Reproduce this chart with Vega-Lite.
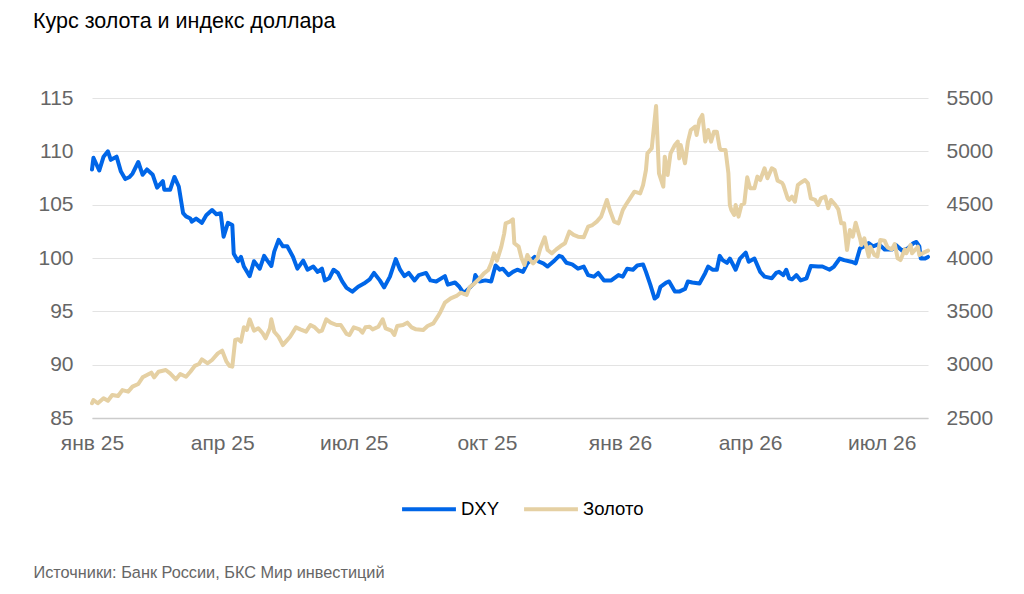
{
  "$schema": "https://vega.github.io/schema/vega-lite/v6.json",
  "autosize": {"type": "none"},
  "width": 836,
  "height": 320,
  "padding": {"left": 92, "top": 98, "right": 96, "bottom": 176},
  "background": "white",
  "title": {
    "text": "Курс золота и индекс доллара",
    "anchor": "start",
    "frame": "group",
    "dx": -59,
    "offset": 55,
    "fontSize": 21.5,
    "fontWeight": "normal",
    "color": "#000000",
    "font": "Liberation Sans"
  },
  "datasets": {
    "dxy": [
      {"date": "2025-01-01", "value": 108.3},
      {"date": "2025-01-02", "value": 109.4},
      {"date": "2025-01-06", "value": 108.2},
      {"date": "2025-01-09", "value": 109.5},
      {"date": "2025-01-12", "value": 110.0},
      {"date": "2025-01-14", "value": 109.2},
      {"date": "2025-01-18", "value": 109.5},
      {"date": "2025-01-21", "value": 108.1},
      {"date": "2025-01-24", "value": 107.4},
      {"date": "2025-01-27", "value": 107.6},
      {"date": "2025-01-29", "value": 107.9},
      {"date": "2025-02-02", "value": 109.0},
      {"date": "2025-02-05", "value": 107.8},
      {"date": "2025-02-08", "value": 108.3},
      {"date": "2025-02-12", "value": 107.8},
      {"date": "2025-02-15", "value": 106.6},
      {"date": "2025-02-19", "value": 107.2},
      {"date": "2025-02-20", "value": 106.4},
      {"date": "2025-02-24", "value": 106.4},
      {"date": "2025-02-27", "value": 107.6},
      {"date": "2025-03-02", "value": 106.7},
      {"date": "2025-03-05", "value": 104.2},
      {"date": "2025-03-07", "value": 103.9},
      {"date": "2025-03-10", "value": 103.7},
      {"date": "2025-03-11", "value": 103.4},
      {"date": "2025-03-14", "value": 103.7},
      {"date": "2025-03-18", "value": 103.3},
      {"date": "2025-03-21", "value": 104.0},
      {"date": "2025-03-25", "value": 104.5},
      {"date": "2025-03-28", "value": 104.1},
      {"date": "2025-03-31", "value": 104.2},
      {"date": "2025-04-02", "value": 102.0},
      {"date": "2025-04-05", "value": 103.3},
      {"date": "2025-04-08", "value": 103.1},
      {"date": "2025-04-09", "value": 100.4},
      {"date": "2025-04-12", "value": 99.7},
      {"date": "2025-04-14", "value": 100.1},
      {"date": "2025-04-16", "value": 99.2},
      {"date": "2025-04-20", "value": 98.3},
      {"date": "2025-04-23", "value": 99.7},
      {"date": "2025-04-27", "value": 99.0},
      {"date": "2025-04-30", "value": 100.2},
      {"date": "2025-05-02", "value": 99.8},
      {"date": "2025-05-05", "value": 99.25},
      {"date": "2025-05-07", "value": 100.6},
      {"date": "2025-05-10", "value": 101.7},
      {"date": "2025-05-13", "value": 101.1},
      {"date": "2025-05-16", "value": 101.1},
      {"date": "2025-05-20", "value": 100.1},
      {"date": "2025-05-23", "value": 99.0},
      {"date": "2025-05-27", "value": 99.75},
      {"date": "2025-05-30", "value": 98.9},
      {"date": "2025-06-03", "value": 99.2},
      {"date": "2025-06-06", "value": 98.7},
      {"date": "2025-06-09", "value": 99.0},
      {"date": "2025-06-11", "value": 97.9},
      {"date": "2025-06-14", "value": 98.1},
      {"date": "2025-06-17", "value": 98.9},
      {"date": "2025-06-20", "value": 98.6},
      {"date": "2025-06-23", "value": 97.8},
      {"date": "2025-06-26", "value": 97.2},
      {"date": "2025-06-30", "value": 96.85},
      {"date": "2025-07-04", "value": 97.3},
      {"date": "2025-07-08", "value": 97.6},
      {"date": "2025-07-12", "value": 98.0},
      {"date": "2025-07-15", "value": 98.6},
      {"date": "2025-07-19", "value": 97.9},
      {"date": "2025-07-22", "value": 97.25},
      {"date": "2025-07-26", "value": 98.25},
      {"date": "2025-07-30", "value": 99.9},
      {"date": "2025-08-02", "value": 98.9},
      {"date": "2025-08-05", "value": 98.3},
      {"date": "2025-08-08", "value": 98.6},
      {"date": "2025-08-12", "value": 97.9},
      {"date": "2025-08-15", "value": 98.4},
      {"date": "2025-08-20", "value": 98.6},
      {"date": "2025-08-23", "value": 97.9},
      {"date": "2025-08-27", "value": 97.8},
      {"date": "2025-09-02", "value": 98.3},
      {"date": "2025-09-04", "value": 97.5},
      {"date": "2025-09-09", "value": 97.7},
      {"date": "2025-09-12", "value": 97.3},
      {"date": "2025-09-15", "value": 96.7},
      {"date": "2025-09-19", "value": 97.2},
      {"date": "2025-09-22", "value": 97.6},
      {"date": "2025-09-23", "value": 98.4},
      {"date": "2025-09-26", "value": 97.8},
      {"date": "2025-09-30", "value": 97.9},
      {"date": "2025-10-04", "value": 97.8},
      {"date": "2025-10-07", "value": 99.3},
      {"date": "2025-10-10", "value": 98.9},
      {"date": "2025-10-12", "value": 99.0},
      {"date": "2025-10-16", "value": 98.4},
      {"date": "2025-10-19", "value": 98.7},
      {"date": "2025-10-22", "value": 98.9},
      {"date": "2025-10-26", "value": 98.7},
      {"date": "2025-10-29", "value": 99.5},
      {"date": "2025-11-03", "value": 100.1},
      {"date": "2025-11-06", "value": 99.65},
      {"date": "2025-11-09", "value": 99.5},
      {"date": "2025-11-12", "value": 99.2},
      {"date": "2025-11-17", "value": 99.8},
      {"date": "2025-11-20", "value": 100.2},
      {"date": "2025-11-22", "value": 100.1},
      {"date": "2025-11-25", "value": 99.55},
      {"date": "2025-11-29", "value": 99.4},
      {"date": "2025-12-03", "value": 99.0},
      {"date": "2025-12-07", "value": 99.2},
      {"date": "2025-12-10", "value": 98.4},
      {"date": "2025-12-14", "value": 98.25},
      {"date": "2025-12-17", "value": 98.6},
      {"date": "2025-12-21", "value": 97.9},
      {"date": "2025-12-26", "value": 97.9},
      {"date": "2025-12-31", "value": 98.4},
      {"date": "2026-01-03", "value": 98.25},
      {"date": "2026-01-06", "value": 99.0},
      {"date": "2026-01-10", "value": 98.9},
      {"date": "2026-01-13", "value": 99.3},
      {"date": "2026-01-17", "value": 99.4},
      {"date": "2026-01-19", "value": 98.7},
      {"date": "2026-01-22", "value": 97.5},
      {"date": "2026-01-25", "value": 96.2},
      {"date": "2026-01-27", "value": 96.4},
      {"date": "2026-01-29", "value": 97.3},
      {"date": "2026-02-02", "value": 97.7},
      {"date": "2026-02-04", "value": 97.8},
      {"date": "2026-02-08", "value": 96.85},
      {"date": "2026-02-11", "value": 96.85},
      {"date": "2026-02-15", "value": 97.1},
      {"date": "2026-02-17", "value": 97.8},
      {"date": "2026-02-20", "value": 97.7},
      {"date": "2026-02-25", "value": 97.6},
      {"date": "2026-03-01", "value": 98.6},
      {"date": "2026-03-03", "value": 99.2},
      {"date": "2026-03-06", "value": 98.9},
      {"date": "2026-03-09", "value": 98.9},
      {"date": "2026-03-11", "value": 100.2},
      {"date": "2026-03-13", "value": 99.8},
      {"date": "2026-03-16", "value": 99.55},
      {"date": "2026-03-18", "value": 99.95},
      {"date": "2026-03-22", "value": 98.9},
      {"date": "2026-03-25", "value": 99.95},
      {"date": "2026-03-29", "value": 100.5},
      {"date": "2026-03-31", "value": 99.65},
      {"date": "2026-04-04", "value": 99.95},
      {"date": "2026-04-08", "value": 98.7},
      {"date": "2026-04-11", "value": 98.25},
      {"date": "2026-04-16", "value": 98.1},
      {"date": "2026-04-19", "value": 98.6},
      {"date": "2026-04-21", "value": 98.7},
      {"date": "2026-04-24", "value": 98.4},
      {"date": "2026-04-26", "value": 98.9},
      {"date": "2026-04-28", "value": 98.1},
      {"date": "2026-04-30", "value": 98.0},
      {"date": "2026-05-03", "value": 98.4},
      {"date": "2026-05-06", "value": 97.9},
      {"date": "2026-05-10", "value": 98.1},
      {"date": "2026-05-13", "value": 99.25},
      {"date": "2026-05-18", "value": 99.2},
      {"date": "2026-05-21", "value": 99.2},
      {"date": "2026-05-26", "value": 98.9},
      {"date": "2026-05-29", "value": 99.2},
      {"date": "2026-06-02", "value": 99.95},
      {"date": "2026-06-05", "value": 99.8},
      {"date": "2026-06-10", "value": 99.65},
      {"date": "2026-06-13", "value": 99.5},
      {"date": "2026-06-16", "value": 100.9},
      {"date": "2026-06-19", "value": 101.1},
      {"date": "2026-06-22", "value": 101.4},
      {"date": "2026-06-25", "value": 101.1},
      {"date": "2026-06-29", "value": 101.3},
      {"date": "2026-07-03", "value": 100.8},
      {"date": "2026-07-08", "value": 100.8},
      {"date": "2026-07-11", "value": 101.2},
      {"date": "2026-07-15", "value": 100.7},
      {"date": "2026-07-19", "value": 100.9},
      {"date": "2026-07-23", "value": 101.4},
      {"date": "2026-07-25", "value": 101.5},
      {"date": "2026-07-27", "value": 101.1},
      {"date": "2026-07-28", "value": 99.95},
      {"date": "2026-07-31", "value": 99.95},
      {"date": "2026-08-02", "value": 100.1}
    ],
    "gold": [
      {"date": "2025-01-01", "value": 2638},
      {"date": "2025-01-02", "value": 2669},
      {"date": "2025-01-05", "value": 2638},
      {"date": "2025-01-09", "value": 2685},
      {"date": "2025-01-12", "value": 2662},
      {"date": "2025-01-15", "value": 2716},
      {"date": "2025-01-19", "value": 2706},
      {"date": "2025-01-22", "value": 2762},
      {"date": "2025-01-26", "value": 2747},
      {"date": "2025-01-29", "value": 2794},
      {"date": "2025-02-02", "value": 2819},
      {"date": "2025-02-05", "value": 2881},
      {"date": "2025-02-08", "value": 2903},
      {"date": "2025-02-11", "value": 2925},
      {"date": "2025-02-13", "value": 2881},
      {"date": "2025-02-16", "value": 2934},
      {"date": "2025-02-21", "value": 2950},
      {"date": "2025-02-24", "value": 2919},
      {"date": "2025-02-28", "value": 2863},
      {"date": "2025-03-03", "value": 2912},
      {"date": "2025-03-07", "value": 2887},
      {"date": "2025-03-10", "value": 2934},
      {"date": "2025-03-13", "value": 2988},
      {"date": "2025-03-16", "value": 3006},
      {"date": "2025-03-18", "value": 3050},
      {"date": "2025-03-22", "value": 3013},
      {"date": "2025-03-25", "value": 3044},
      {"date": "2025-03-29", "value": 3106},
      {"date": "2025-04-01", "value": 3131},
      {"date": "2025-04-04", "value": 3028},
      {"date": "2025-04-06", "value": 2990},
      {"date": "2025-04-08", "value": 2981},
      {"date": "2025-04-10", "value": 3231},
      {"date": "2025-04-12", "value": 3238},
      {"date": "2025-04-14", "value": 3216},
      {"date": "2025-04-16", "value": 3350},
      {"date": "2025-04-18", "value": 3325},
      {"date": "2025-04-20", "value": 3425},
      {"date": "2025-04-23", "value": 3319},
      {"date": "2025-04-26", "value": 3341},
      {"date": "2025-04-29", "value": 3294},
      {"date": "2025-05-01", "value": 3247},
      {"date": "2025-05-04", "value": 3341},
      {"date": "2025-05-05", "value": 3425},
      {"date": "2025-05-07", "value": 3309},
      {"date": "2025-05-10", "value": 3262},
      {"date": "2025-05-13", "value": 3184},
      {"date": "2025-05-15", "value": 3216},
      {"date": "2025-05-18", "value": 3262},
      {"date": "2025-05-22", "value": 3350},
      {"date": "2025-05-25", "value": 3331},
      {"date": "2025-05-29", "value": 3309},
      {"date": "2025-06-01", "value": 3372},
      {"date": "2025-06-04", "value": 3350},
      {"date": "2025-06-07", "value": 3309},
      {"date": "2025-06-09", "value": 3319},
      {"date": "2025-06-12", "value": 3425},
      {"date": "2025-06-15", "value": 3394},
      {"date": "2025-06-19", "value": 3372},
      {"date": "2025-06-22", "value": 3372},
      {"date": "2025-06-26", "value": 3288},
      {"date": "2025-06-28", "value": 3278},
      {"date": "2025-07-01", "value": 3350},
      {"date": "2025-07-05", "value": 3331},
      {"date": "2025-07-07", "value": 3300},
      {"date": "2025-07-09", "value": 3350},
      {"date": "2025-07-12", "value": 3356},
      {"date": "2025-07-14", "value": 3331},
      {"date": "2025-07-18", "value": 3356},
      {"date": "2025-07-21", "value": 3425},
      {"date": "2025-07-23", "value": 3341},
      {"date": "2025-07-27", "value": 3319},
      {"date": "2025-07-29", "value": 3278},
      {"date": "2025-07-31", "value": 3362},
      {"date": "2025-08-04", "value": 3372},
      {"date": "2025-08-07", "value": 3394},
      {"date": "2025-08-10", "value": 3350},
      {"date": "2025-08-13", "value": 3331},
      {"date": "2025-08-18", "value": 3325},
      {"date": "2025-08-21", "value": 3362},
      {"date": "2025-08-25", "value": 3387},
      {"date": "2025-08-28", "value": 3450},
      {"date": "2025-08-30", "value": 3497},
      {"date": "2025-09-02", "value": 3581},
      {"date": "2025-09-06", "value": 3622},
      {"date": "2025-09-10", "value": 3644},
      {"date": "2025-09-13", "value": 3675},
      {"date": "2025-09-17", "value": 3653},
      {"date": "2025-09-19", "value": 3725},
      {"date": "2025-09-22", "value": 3756},
      {"date": "2025-09-26", "value": 3809},
      {"date": "2025-09-29", "value": 3856},
      {"date": "2025-10-02", "value": 3888},
      {"date": "2025-10-04", "value": 3950},
      {"date": "2025-10-06", "value": 4044},
      {"date": "2025-10-08", "value": 3975},
      {"date": "2025-10-11", "value": 4106},
      {"date": "2025-10-13", "value": 4231},
      {"date": "2025-10-14", "value": 4325},
      {"date": "2025-10-17", "value": 4341},
      {"date": "2025-10-19", "value": 4363},
      {"date": "2025-10-20", "value": 4138},
      {"date": "2025-10-23", "value": 4106},
      {"date": "2025-10-25", "value": 3997},
      {"date": "2025-10-27", "value": 3934},
      {"date": "2025-10-29", "value": 4028},
      {"date": "2025-10-31", "value": 3981},
      {"date": "2025-11-02", "value": 3950},
      {"date": "2025-11-05", "value": 3997},
      {"date": "2025-11-07", "value": 4091},
      {"date": "2025-11-10", "value": 4194},
      {"date": "2025-11-12", "value": 4075},
      {"date": "2025-11-15", "value": 4044},
      {"date": "2025-11-18", "value": 4081},
      {"date": "2025-11-21", "value": 4112},
      {"date": "2025-11-24", "value": 4138},
      {"date": "2025-11-27", "value": 4247},
      {"date": "2025-11-30", "value": 4216},
      {"date": "2025-12-03", "value": 4200},
      {"date": "2025-12-07", "value": 4194},
      {"date": "2025-12-10", "value": 4294},
      {"date": "2025-12-13", "value": 4309},
      {"date": "2025-12-16", "value": 4341},
      {"date": "2025-12-19", "value": 4388},
      {"date": "2025-12-23", "value": 4544},
      {"date": "2025-12-25", "value": 4450},
      {"date": "2025-12-28", "value": 4341},
      {"date": "2025-12-31", "value": 4325},
      {"date": "2026-01-03", "value": 4450},
      {"date": "2026-01-05", "value": 4497},
      {"date": "2026-01-08", "value": 4559},
      {"date": "2026-01-11", "value": 4622},
      {"date": "2026-01-15", "value": 4606},
      {"date": "2026-01-17", "value": 4684},
      {"date": "2026-01-19", "value": 4825},
      {"date": "2026-01-20", "value": 4981},
      {"date": "2026-01-22", "value": 5013},
      {"date": "2026-01-23", "value": 5028},
      {"date": "2026-01-26", "value": 5425},
      {"date": "2026-01-28", "value": 4794},
      {"date": "2026-01-31", "value": 4669},
      {"date": "2026-02-01", "value": 4950},
      {"date": "2026-02-03", "value": 4778},
      {"date": "2026-02-05", "value": 4981},
      {"date": "2026-02-08", "value": 5059},
      {"date": "2026-02-10", "value": 5091},
      {"date": "2026-02-11", "value": 4934},
      {"date": "2026-02-12", "value": 5059},
      {"date": "2026-02-15", "value": 4888},
      {"date": "2026-02-17", "value": 5091},
      {"date": "2026-02-19", "value": 5200},
      {"date": "2026-02-22", "value": 5231},
      {"date": "2026-02-23", "value": 5153},
      {"date": "2026-02-25", "value": 5294},
      {"date": "2026-02-27", "value": 5341},
      {"date": "2026-03-01", "value": 5091},
      {"date": "2026-03-03", "value": 5200},
      {"date": "2026-03-05", "value": 5091},
      {"date": "2026-03-07", "value": 5184},
      {"date": "2026-03-09", "value": 5184},
      {"date": "2026-03-11", "value": 5028},
      {"date": "2026-03-12", "value": 5013},
      {"date": "2026-03-15", "value": 5013},
      {"date": "2026-03-17", "value": 4794},
      {"date": "2026-03-18", "value": 4497},
      {"date": "2026-03-19", "value": 4450},
      {"date": "2026-03-21", "value": 4403},
      {"date": "2026-03-22", "value": 4497},
      {"date": "2026-03-24", "value": 4388},
      {"date": "2026-03-26", "value": 4497},
      {"date": "2026-03-28", "value": 4513},
      {"date": "2026-03-30", "value": 4756},
      {"date": "2026-04-01", "value": 4653},
      {"date": "2026-04-04", "value": 4653},
      {"date": "2026-04-06", "value": 4763},
      {"date": "2026-04-08", "value": 4731},
      {"date": "2026-04-11", "value": 4841},
      {"date": "2026-04-13", "value": 4747},
      {"date": "2026-04-16", "value": 4841},
      {"date": "2026-04-18", "value": 4825},
      {"date": "2026-04-20", "value": 4725},
      {"date": "2026-04-23", "value": 4706},
      {"date": "2026-04-24", "value": 4684},
      {"date": "2026-04-27", "value": 4559},
      {"date": "2026-04-28", "value": 4544},
      {"date": "2026-04-30", "value": 4575},
      {"date": "2026-05-02", "value": 4528},
      {"date": "2026-05-04", "value": 4684},
      {"date": "2026-05-06", "value": 4706},
      {"date": "2026-05-09", "value": 4731},
      {"date": "2026-05-11", "value": 4700},
      {"date": "2026-05-13", "value": 4559},
      {"date": "2026-05-16", "value": 4544},
      {"date": "2026-05-18", "value": 4497},
      {"date": "2026-05-20", "value": 4559},
      {"date": "2026-05-23", "value": 4575},
      {"date": "2026-05-25", "value": 4466},
      {"date": "2026-05-27", "value": 4544},
      {"date": "2026-05-30", "value": 4497},
      {"date": "2026-06-01", "value": 4456},
      {"date": "2026-06-03", "value": 4325},
      {"date": "2026-06-05", "value": 4325},
      {"date": "2026-06-07", "value": 4075},
      {"date": "2026-06-09", "value": 4263},
      {"date": "2026-06-11", "value": 4200},
      {"date": "2026-06-13", "value": 4331},
      {"date": "2026-06-16", "value": 4184},
      {"date": "2026-06-17", "value": 4122},
      {"date": "2026-06-19", "value": 4184},
      {"date": "2026-06-22", "value": 4013},
      {"date": "2026-06-23", "value": 4106},
      {"date": "2026-06-26", "value": 4028},
      {"date": "2026-06-28", "value": 4013},
      {"date": "2026-06-30", "value": 4169},
      {"date": "2026-07-03", "value": 4163},
      {"date": "2026-07-05", "value": 4100},
      {"date": "2026-07-08", "value": 4081},
      {"date": "2026-07-10", "value": 4131},
      {"date": "2026-07-12", "value": 3997},
      {"date": "2026-07-14", "value": 3981},
      {"date": "2026-07-17", "value": 4081},
      {"date": "2026-07-18", "value": 4044},
      {"date": "2026-07-21", "value": 4122},
      {"date": "2026-07-22", "value": 4044},
      {"date": "2026-07-24", "value": 4075},
      {"date": "2026-07-26", "value": 4106},
      {"date": "2026-07-27", "value": 4028},
      {"date": "2026-07-30", "value": 4050},
      {"date": "2026-08-02", "value": 4069}
    ]
  },
  "layer": [
    {
      "data": {"name": "dxy"},
      "mark": {"type": "line", "strokeWidth": 4, "strokeJoin": "round", "strokeCap": "round"},
      "encoding": {
        "x": {
          "field": "date",
          "type": "temporal",
          "scale": {"type": "utc", "domain": [{"year": 2025, "month": 1, "date": 1, "utc": true}, {"year": 2026, "month": 8, "date": 2, "utc": true}]},
          "axis": {
            "values": [
              {"year": 2025, "month": 1, "date": 1, "utc": true},
              {"year": 2025, "month": 4, "date": 1, "utc": true},
              {"year": 2025, "month": 7, "date": 1, "utc": true},
              {"year": 2025, "month": 10, "date": 1, "utc": true},
              {"year": 2026, "month": 1, "date": 1, "utc": true},
              {"year": 2026, "month": 4, "date": 1, "utc": true},
              {"year": 2026, "month": 7, "date": 1, "utc": true}
            ],
            "labelExpr": "['янв','фев','мар','апр','май','июн','июл','авг','сен','окт','ноя','дек'][utcmonth(datum.value)] + ' ' + utcFormat(datum.value, '%y')",
            "labelFlush": false,
            "labelOverlap": false,
            "grid": false,
            "ticks": false,
            "domainColor": "#cccccc",
            "domainWidth": 1.5,
            "labelPadding": 14,
            "labelFontSize": 21,
            "labelColor": "#666666",
            "labelFont": "Liberation Sans",
            "title": "Источники: Банк России, БКС Мир инвестиций",
            "titleAnchor": "start",
            "titleAlign": "left",
            "titleBaseline": "alphabetic",
            "titleX": -59,
            "titleY": 159,
            "titleFontSize": 16.3,
            "titleFontWeight": "normal",
            "titleColor": "#666666",
            "titleFont": "Liberation Sans"
          }
        },
        "y": {
          "field": "value",
          "type": "quantitative",
          "scale": {"domain": [85, 115]},
          "axis": {
            "values": [85, 90, 95, 100, 105, 110, 115],
            "title": null,
            "domain": false,
            "ticks": false,
            "gridColor": "#e3e3e3",
            "gridWidth": 1,
            "labelPadding": 19,
            "labelFontSize": 21,
            "labelColor": "#666666",
            "labelFont": "Liberation Sans"
          }
        },
        "color": {
          "datum": "DXY",
          "scale": {"domain": ["DXY", "Золото"], "range": ["#0066e8", "#e5d0a3"]},
          "legend": {
            "title": null,
            "orient": "none",
            "legendX": 308,
            "legendY": 382,
            "direction": "horizontal",
            "symbolType": "stroke",
            "symbolSize": 2900,
            "symbolStrokeWidth": 4,
            "labelFontSize": 18.5,
            "labelColor": "#000000",
            "labelFont": "Liberation Sans",
            "labelOffset": 3,
            "columnPadding": 16
          }
        }
      }
    },
    {
      "data": {"name": "gold"},
      "mark": {"type": "line", "strokeWidth": 4, "strokeJoin": "round", "strokeCap": "round"},
      "encoding": {
        "x": {"field": "date", "type": "temporal"},
        "y": {
          "field": "value",
          "type": "quantitative",
          "scale": {"domain": [2500, 5500]},
          "axis": {
            "orient": "right",
            "values": [2500, 3000, 3500, 4000, 4500, 5000, 5500],
            "format": "d",
            "title": null,
            "grid": false,
            "domain": false,
            "ticks": false,
            "labelPadding": 18,
            "labelFontSize": 21,
            "labelColor": "#666666",
            "labelFont": "Liberation Sans"
          }
        },
        "color": {"datum": "Золото"}
      }
    }
  ],
  "resolve": {"scale": {"y": "independent"}},
  "config": {
    "view": {"stroke": null},
    "font": "Liberation Sans"
  }
}
